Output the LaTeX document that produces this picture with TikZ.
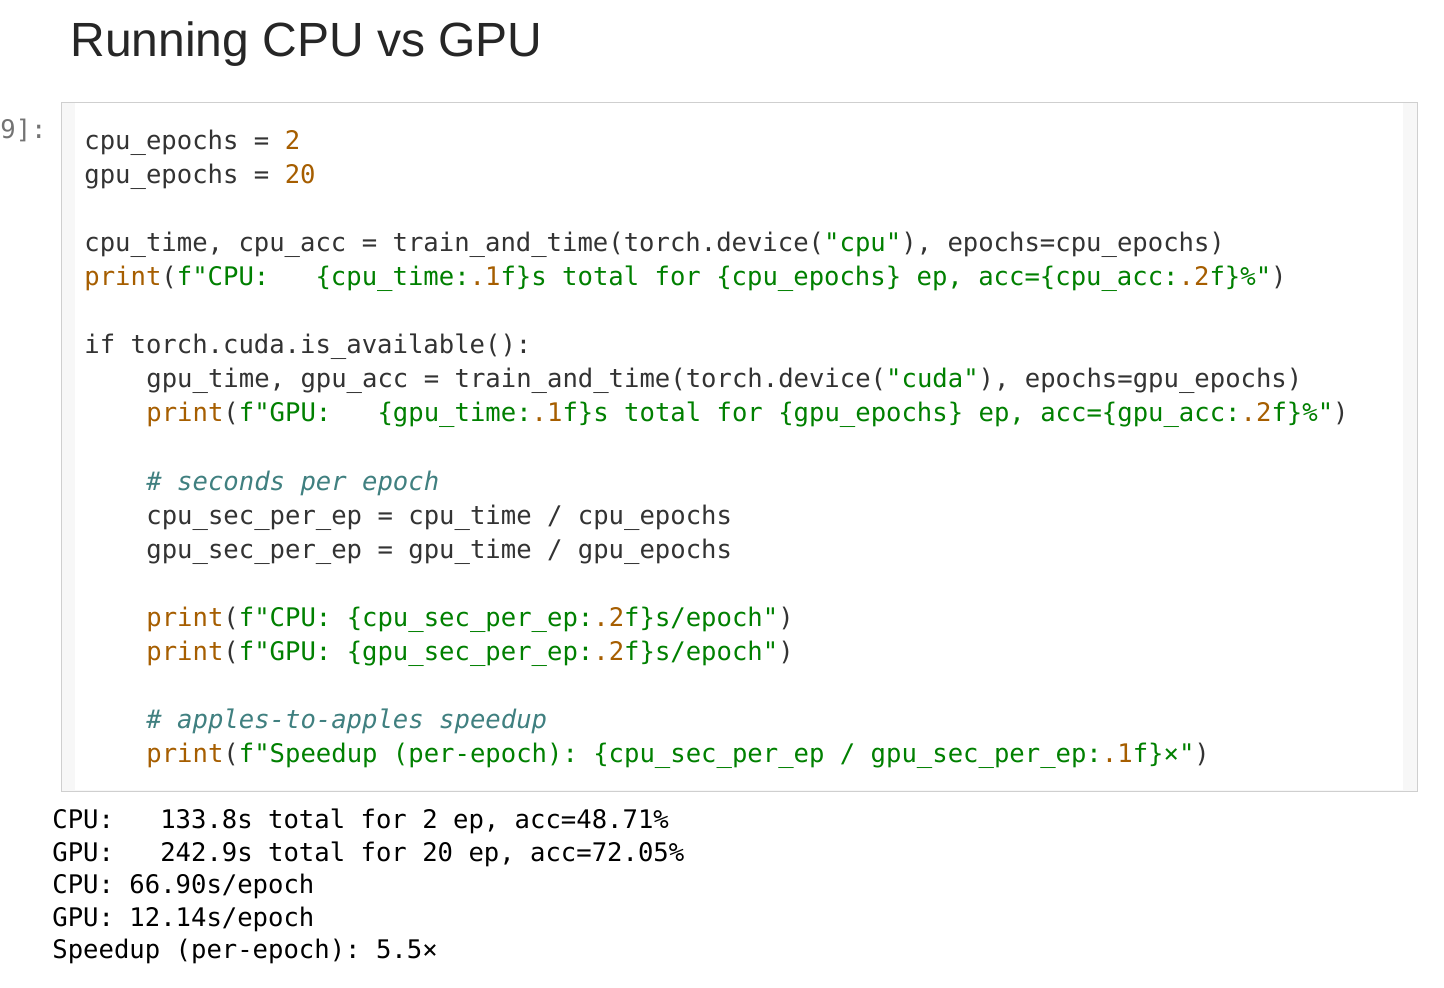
\documentclass[tikz,border=0pt]{standalone}
\usepackage{fontspec}
\setmainfont{Liberation Sans}
\setmonofont{DejaVu Sans Mono}
\definecolor{txt}{HTML}{333333}
\definecolor{num}{HTML}{A65E00}
\definecolor{str}{HTML}{008000}
\definecolor{cmt}{HTML}{408080}
\definecolor{brd}{HTML}{CFCFCF}
\definecolor{bgc}{HTML}{F7F7F7}
\newcommand\nm[1]{\textcolor{num}{#1}}
\newcommand\st[1]{\textcolor{str}{#1}}
\newcommand\cm[1]{\textcolor{cmt}{\itshape #1}}
\begin{document}
\begin{tikzpicture}[x=0.5pt,y=-0.5pt,
  code/.style={anchor=base west,inner sep=0pt,font=\ttfamily\fontsize{12.8pt}{14pt}\selectfont,text=txt},
  outtext/.style={code,text=black}]
\useasboundingbox (0,0) rectangle (1444,988);
\node[anchor=base west,inner sep=0pt,font=\fontsize{24pt}{28pt}\selectfont,text=black!85] (title) at (70,57) {Running CPU vs GPU};
\node[code,text=black!55] (prompt) at (0,139) {9]:};
\draw[brd,fill=bgc] (61,102) rectangle (1417,791);
\fill[white] (75,103) rectangle (1403,790);
\node[code] (l1) at (84,150) {cpu\_epochs = \nm{2}};
\node[code] (l2) at (84,184) {gpu\_epochs = \nm{20}};
\node[code] (l3) at (84,252) {cpu\_time, cpu\_acc = train\_and\_time(torch.device(\st{"cpu"}), epochs=cpu\_epochs)};
\node[code] (l4) at (84,286) {\nm{print}(\st{f"CPU:\ \ \ \{cpu\_time:}\nm{.1}\st{f\}s total for \{cpu\_epochs\} ep, acc=\{cpu\_acc:}\nm{.2}\st{f\}\%"})};
\node[code] (l5) at (84,354) {if torch.cuda.is\_available():};
\node[code] (l6) at (146,388) {gpu\_time, gpu\_acc = train\_and\_time(torch.device(\st{"cuda"}), epochs=gpu\_epochs)};
\node[code] (l7) at (146,422) {\nm{print}(\st{f"GPU:\ \ \ \{gpu\_time:}\nm{.1}\st{f\}s total for \{gpu\_epochs\} ep, acc=\{gpu\_acc:}\nm{.2}\st{f\}\%"})};
\node[code] (l8) at (146,490) {\cm{\# seconds per epoch}};
\node[code] (l9) at (146,524) {cpu\_sec\_per\_ep = cpu\_time / cpu\_epochs};
\node[code] (l10) at (146,558) {gpu\_sec\_per\_ep = gpu\_time / gpu\_epochs};
\node[code] (l11) at (146,626) {\nm{print}(\st{f"CPU: \{cpu\_sec\_per\_ep:}\nm{.2}\st{f\}s/epoch"})};
\node[code] (l12) at (146,660) {\nm{print}(\st{f"GPU: \{gpu\_sec\_per\_ep:}\nm{.2}\st{f\}s/epoch"})};
\node[code] (l13) at (146,728) {\cm{\# apples-to-apples speedup}};
\node[code] (l14) at (146,762) {\nm{print}(\st{f"Speedup (per-epoch): \{cpu\_sec\_per\_ep / gpu\_sec\_per\_ep:}\nm{.1}\st{f\}×"})};
\node[outtext] (o1) at (52,828) {CPU:\ \ \ 133.8s total for 2 ep, acc=48.71\%};
\node[outtext] (o2) at (52,861) {GPU:\ \ \ 242.9s total for 20 ep, acc=72.05\%};
\node[outtext] (o3) at (52,893) {CPU: 66.90s/epoch};
\node[outtext] (o4) at (52,926) {GPU: 12.14s/epoch};
\node[outtext] (o5) at (52,958) {Speedup (per-epoch): 5.5×};
\end{tikzpicture}
\end{document}
